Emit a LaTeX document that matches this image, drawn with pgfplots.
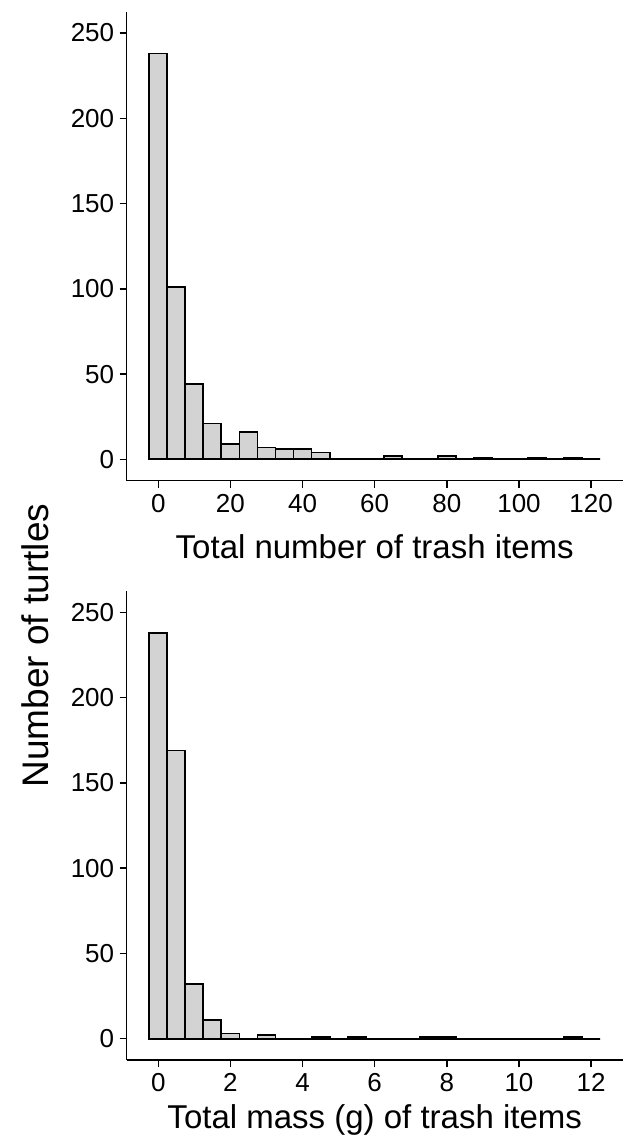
\documentclass[border=0pt]{standalone}
\usepackage{fontspec}
\setmainfont{Liberation Sans}
\usepackage{pgfplots}
\pgfplotsset{compat=1.18}
\usepackage{pgfplotstable}
\definecolor{barfill}{RGB}{211,211,211}

\pgfplotstableread{
x y
0 238
5 101
10 44
15 21
20 9
25 16
30 7
35 6
40 6
45 4
50 0
55 0
60 0
65 2
70 0
75 0
80 2
85 0
90 1
95 0
100 0
105 1
110 0
115 1
120 0
}\topdata

\pgfplotstableread{
x y
0 238
0.5 169
1 32
1.5 11
2 3
2.5 0
3 2
3.5 0
4 0
4.5 1
5 0
5.5 1
6 0
6.5 0
7 0
7.5 1
8 1
8.5 0
9 0
9.5 0
10 0
10.5 0
11 0
11.5 1
12 0
}\botdata

\pgfplotsset{
 histo/.style={
  scale only axis, width=496pt, height=469pt,
  axis x line*=bottom, axis y line*=left,
  axis line style={line width=1.5pt, black},
  tick align=outside, major tick length=7pt,
  tick style={line width=1.5pt, black},
  ymin=-12.5, ymax=262.5, ytick={0,50,...,250},
  /pgf/number format/assume math mode=true,
  tick label style={font=\fontsize{26}{30}\selectfont},
  yticklabel style={xshift=-2pt},
  xticklabel style={yshift=-3pt},
  xlabel style={font=\fontsize{33}{40}\selectfont, at={(rel axis cs:0.5,0)}, anchor=base},
  ybar, bar shift=0pt,
 },
 histbar/.style={fill=barfill, draw=black, line width=1.8pt},
}

\begin{document}
\begin{tikzpicture}
\path[use as bounding box] (-126.7pt,480.7pt) rectangle (499.3pt,-655.3pt);
\begin{axis}[histo, at={(0,0)}, anchor=south west,
  xmin=-8.75, xmax=128.75, xtick={0,20,...,120}, bar width=5,
  xlabel={Total number of trash items},
  xlabel style={yshift=-78pt}]
\addplot[histbar] table[x=x,y=y] {\topdata};
\end{axis}
\begin{axis}[histo, at={(0,-579.3pt)}, anchor=south west,
  xmin=-0.875, xmax=12.875, xtick={0,2,...,12}, bar width=0.5,
  xlabel={Total mass (g) of trash items},
  xlabel style={yshift=-68pt}]
\addplot[histbar] table[x=x,y=y] {\botdata};
\end{axis}
\node[rotate=90, font=\fontsize{37}{44}\selectfont] at (-91pt,-165pt) {Number of turtles};
\end{tikzpicture}
\end{document}
